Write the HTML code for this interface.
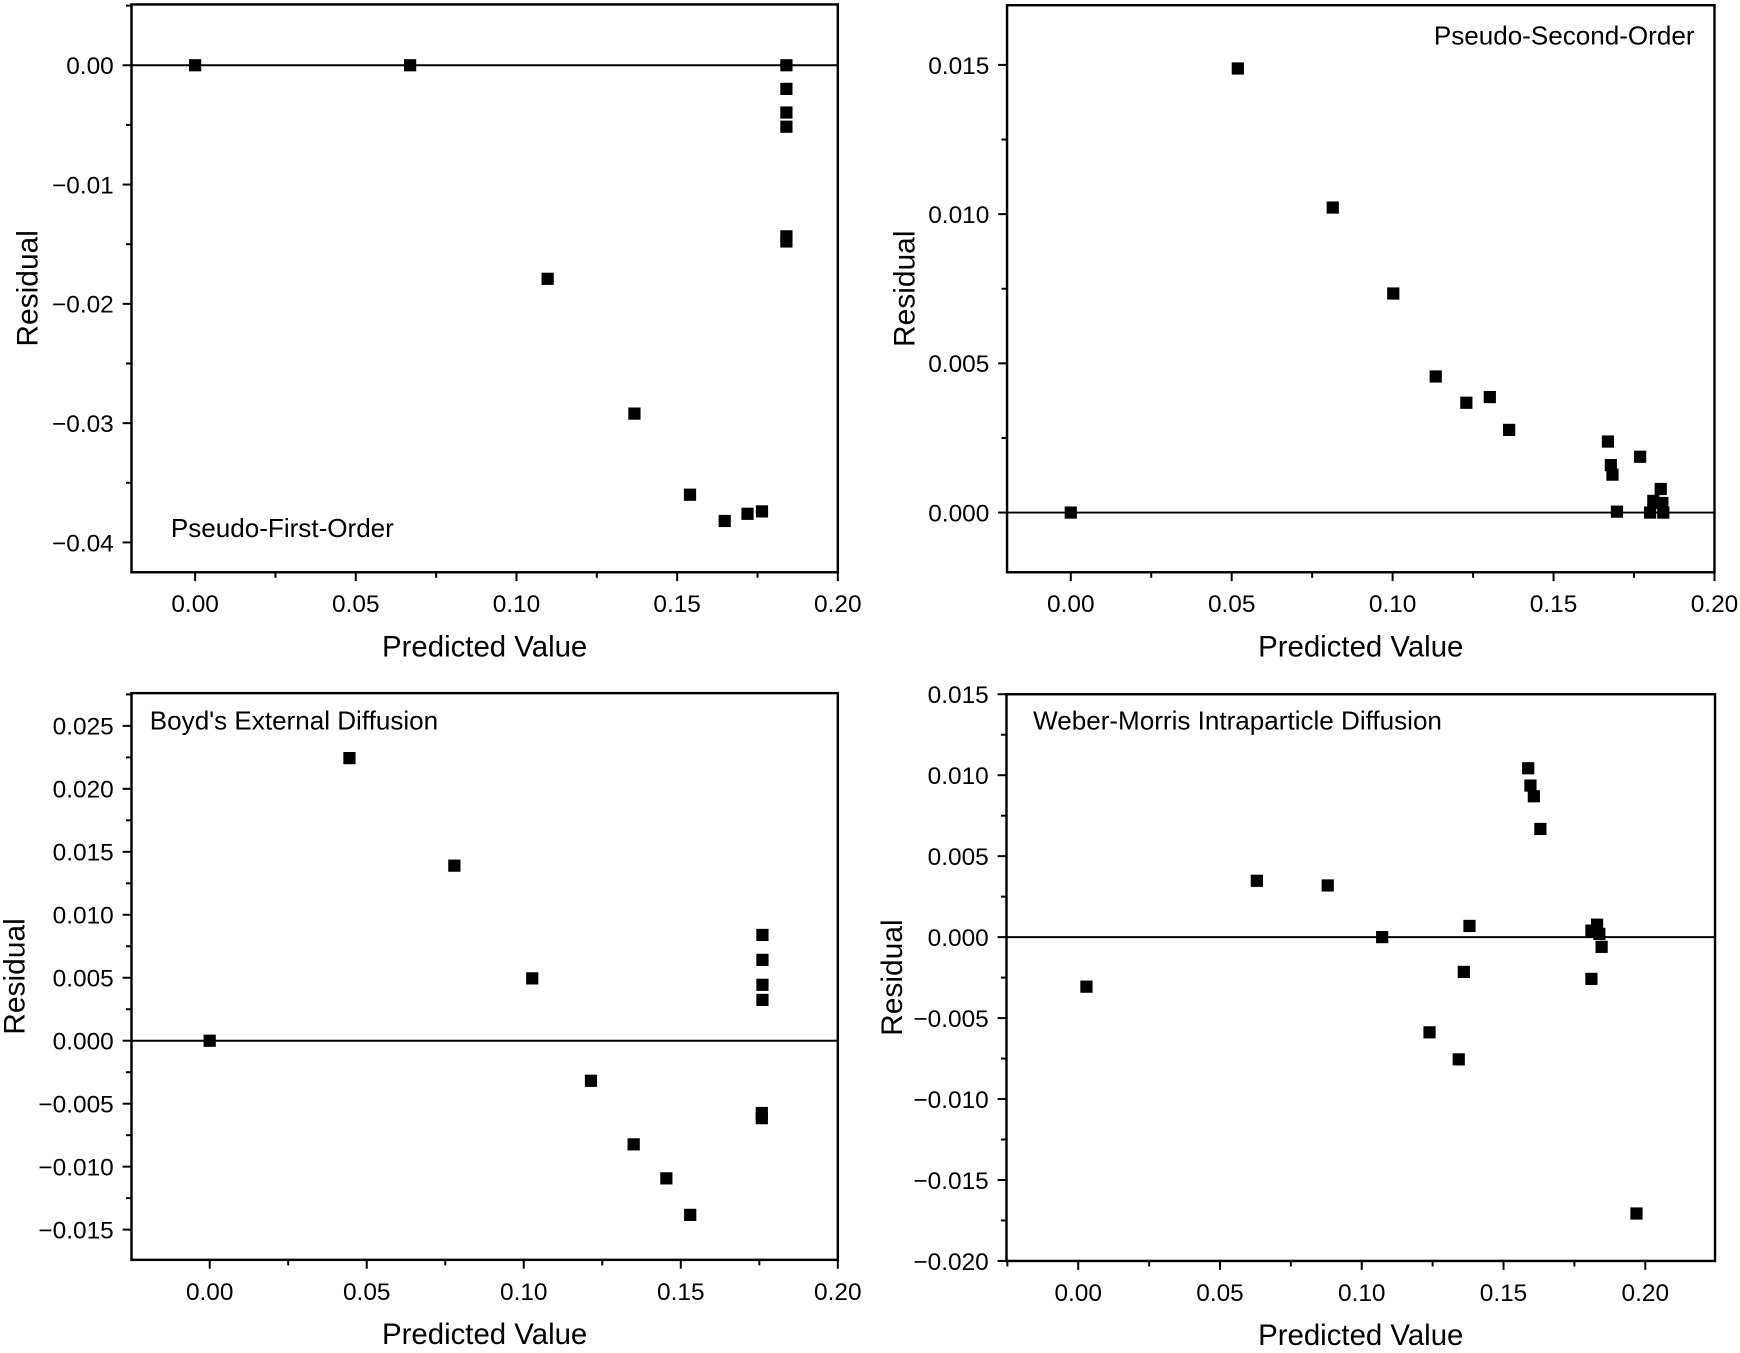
<!DOCTYPE html>
<html><head><meta charset="utf-8"><style>
html,body{margin:0;padding:0;background:#fff;}
svg{display:block;font-family:"Liberation Sans",Arial,sans-serif;}
</style></head><body>
<svg id="chart" width="1740" height="1353" viewBox="0 0 1568 1220" preserveAspectRatio="none" xmlns="http://www.w3.org/2000/svg"></svg>
<script>
// Panel 1: Pseudo-First-Order
const pfoX = [0, 0.0669, 0.184, 0.184, 0.184, 0.184, 0.184, 0.184, 0.1097, 0.1367, 0.154, 0.1648, 0.1719, 0.1764];
const pfoY = [0, 0, 0, -0.00198, -0.00396, -0.00515, -0.01434, -0.01477, -0.0179, -0.0292, -0.036, -0.0382, -0.0376, -0.0374];
const pfoXTicks = ["0.00","0.05","0.10","0.15","0.20"];
const pfoYTicks = ["0.00","−0.01","−0.02","−0.03","−0.04"];
// Panel 2: Pseudo-Second-Order
const psoX = [0, 0.0519, 0.0814, 0.1002, 0.1134, 0.1229, 0.1302, 0.1362, 0.1669, 0.1678, 0.1683, 0.1697, 0.1769, 0.18, 0.181, 0.1833, 0.1838, 0.1841];
const psoY = [0, 0.01488, 0.01022, 0.00734, 0.00456, 0.00368, 0.00387, 0.00277, 0.00238, 0.00159, 0.00127, 0.00003, 0.00187, 0, 0.00039, 0.00079, 0.00032, 0];
const psoXTicks = ["0.00","0.05","0.10","0.15","0.20"];
const psoYTicks = ["0.000","0.005","0.010","0.015"];
// Panel 3: Boyd's External Diffusion
const boydX = [0, 0.0445, 0.0779, 0.1027, 0.176, 0.176, 0.176, 0.176, 0.1214, 0.135, 0.1454, 0.153, 0.1758, 0.1758];
const boydY = [0, 0.02244, 0.0139, 0.00495, 0.0084, 0.00642, 0.00444, 0.00324, -0.00318, -0.00823, -0.01093, -0.01383, -0.00574, -0.00615];
const boydXTicks = ["0.00","0.05","0.10","0.15","0.20"];
const boydYTicks = ["−0.015","−0.010","−0.005","0.000","0.005","0.010","0.015","0.020","0.025"];
// Panel 4: Weber-Morris Intraparticle Diffusion
const wmX = [0.0029, 0.063, 0.088, 0.1072, 0.138, 0.136, 0.1239, 0.1342, 0.1587, 0.1595, 0.1607, 0.163, 0.181, 0.183, 0.1838, 0.1846, 0.181, 0.1969];
const wmY = [-0.00306, 0.00348, 0.00319, 0, 0.00069, -0.00215, -0.00588, -0.00755, 0.01043, 0.00936, 0.0087, 0.00668, 0.0004, 0.00077, 0.0002, -0.0006, -0.00258, -0.01707];
const wmXTicks = ["0.00","0.05","0.10","0.15","0.20"];
const wmYTicks = ["−0.020","−0.015","−0.010","−0.005","0.000","0.005","0.010","0.015"];

const NS = "http://www.w3.org/2000/svg";
const svg = document.getElementById("chart");
function mk(tag, attrs, parent) {
  const e = document.createElementNS(NS, tag);
  for (const k in attrs) e.setAttribute(k, attrs[k]);
  parent.appendChild(e);
  return e;
}
function num(s){return parseFloat(s.replace("−","-"));}

function panel(cfg) {
  const g = mk("g", {}, svg);
  
  
  const L = cfg.box[0], T = cfg.box[1], R = cfg.box[2], B = cfg.box[3];
  const sx = v => L + (v - cfg.xr[0]) / (cfg.xr[1] - cfg.xr[0]) * (R - L);
  const sy = v => B - (v - cfg.yr[0]) / (cfg.yr[1] - cfg.yr[0]) * (B - T);
  const frame = mk("rect", {x:L, y:T, width:R-L, height:B-T, fill:"none", stroke:"#000", "stroke-width":2.2}, g);
  
  
  const z = mk("line", {x1:L, x2:R, y1:sy(0), y2:sy(0), stroke:"#000", "stroke-width":1.8}, g);
  
  
  const xv = cfg.xt.map(num);
  const xstep = xv[1] - xv[0];
  for (let v = xv[0] - xstep/2; v <= cfg.xr[1] + 1e-9; v += xstep/2) {
    if (v < cfg.xr[0] - 1e-9) continue;
    const major = xv.some(t => Math.abs(t - v) < 1e-9);
    mk("line", {x1:sx(v), x2:sx(v), y1:B, y2:B + (major?8:5), stroke:"#000", "stroke-width":1.8}, g);
  }
  cfg.xt.forEach((t, i) => {
    const tx = mk("text", {x:sx(xv[i]), y:B + 36, "text-anchor":"middle", "font-size":22}, g);
    tx.textContent = t;
    
    
  });
  const yv = cfg.yt.map(num);
  const ymin = Math.min(...yv);
  const ystep = Math.abs(yv[1] - yv[0]);
  for (let v = ymin - ystep/2; v <= cfg.yr[1] + 1e-9; v += ystep/2) {
    if (v < cfg.yr[0] - 1e-9) continue;
    const major = yv.some(t => Math.abs(t - v) < 1e-9);
    mk("line", {x1:L - (major?8:5), x2:L, y1:sy(v), y2:sy(v), stroke:"#000", "stroke-width":1.8}, g);
  }
  cfg.yt.forEach((t, i) => {
    const ty = mk("text", {x:L - 16, y:sy(yv[i]) + 8, "text-anchor":"end", "font-size":22}, g);
    ty.textContent = t;
    
    
  });
  const xt = mk("text", {x:(L+R)/2, y:B + 76, "text-anchor":"middle", "font-size":26.5}, g);
  xt.textContent = "Predicted Value";
  
  
  const yx = cfg.ytx, yy = (T+B)/2;
  const yt = mk("text", {x:yx, y:yy, "text-anchor":"middle", "font-size":27, transform:`rotate(-90 ${yx} ${yy})`}, g);
  yt.textContent = "Residual";
  
  
  const lb = mk("text", {x:cfg.lab[0], y:cfg.lab[1], "text-anchor":cfg.lab[2], "font-size":23.5}, g);
  lb.textContent = cfg.label;
  
  
  cfg.xs.forEach((x, i) => {
    const p = mk("rect", {x:sx(x) - 5.5, y:sy(cfg.ys[i]) - 5.5, width:11, height:11, fill:"#000"}, g);
    
    
  });
}

panel({name:"pseudo-first-order-panel", box:[118.5,4,755,516], xr:[-0.0198,0.2], yr:[-0.0425,0.0051],
  xt:pfoXTicks, yt:pfoYTicks, xs:pfoX, ys:pfoY, ytx:34, label:"Pseudo-First-Order", lab:[154,484,"start"]});
panel({name:"pseudo-second-order-panel", box:[907.5,4.7,1545,516], xr:[-0.0198,0.2], yr:[-0.002,0.017],
  xt:psoXTicks, yt:psoYTicks, xs:psoX, ys:psoY, ytx:824, label:"Pseudo-Second-Order", lab:[1527,40,"end"]});
panel({name:"boyd-external-diffusion-panel", box:[118.5,625,755,1136], xr:[-0.0249,0.2], yr:[-0.0174,0.0276],
  xt:boydXTicks, yt:boydYTicks, xs:boydX, ys:boydY, ytx:22, label:"Boyd's External Diffusion", lab:[135,658,"start"]});
panel({name:"weber-morris-panel", box:[907,626,1545.5,1137], xr:[-0.0253,0.2246], yr:[-0.02,0.015],
  xt:wmXTicks, yt:wmYTicks, xs:wmX, ys:wmY, ytx:813, label:"Weber-Morris Intraparticle Diffusion", lab:[931,658,"start"]});
</script>
</body></html>
